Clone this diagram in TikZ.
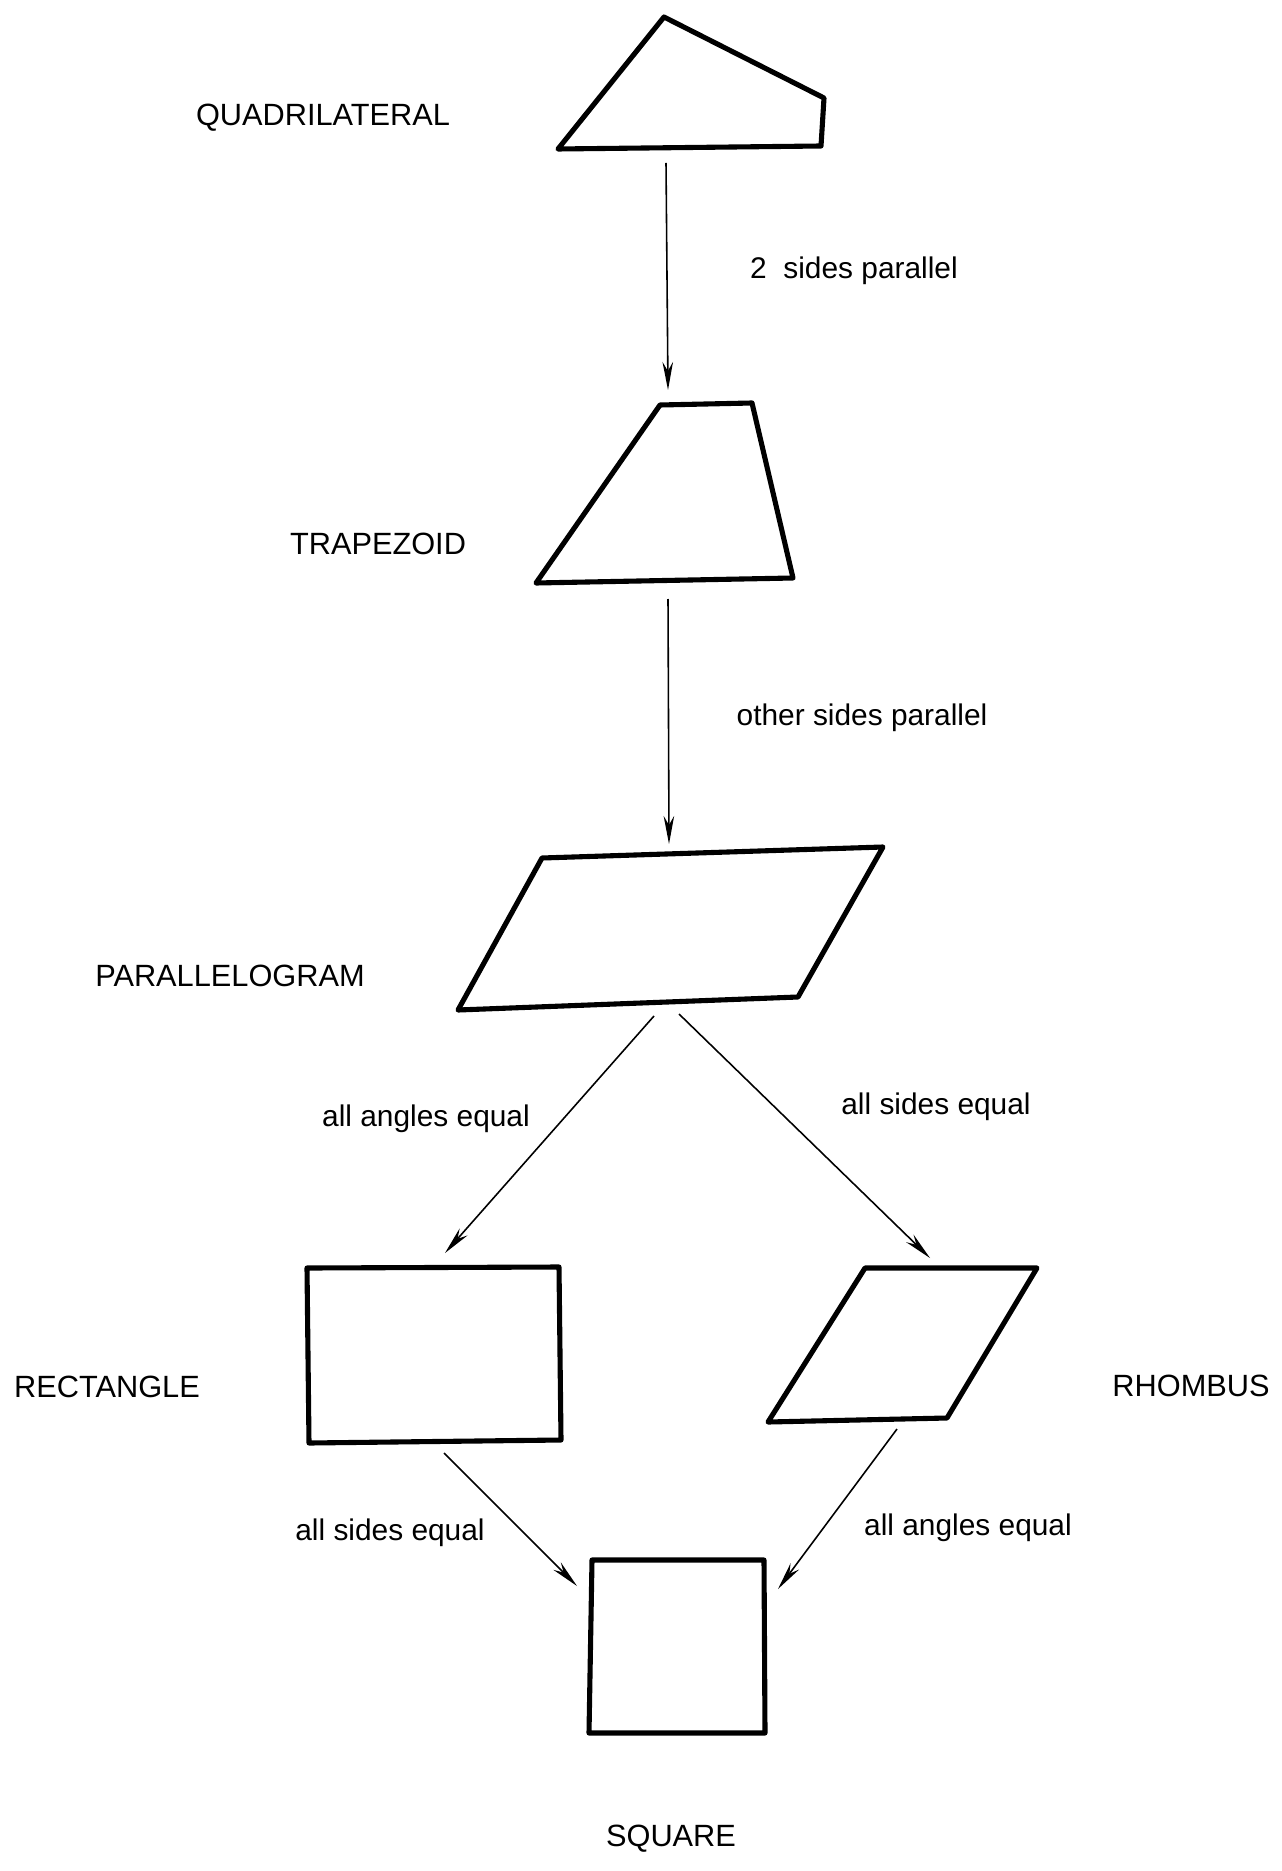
\documentclass[tikz,border=0pt]{standalone}
\usepackage{fontspec}
\setmainfont{Liberation Sans}
\usetikzlibrary{arrows.meta}

\begin{document}
\begin{tikzpicture}[x=0.02cm,y=-0.02cm,>={Stealth[length=16pt,width=6pt]},
	figure/.style={draw=black, line width=2.9pt, line join=round},
	link/.style={->, line width=0.9pt},
	title/.style={font=\fontsize{17.5}{21}\selectfont},
	cond/.style={font=\fontsize{17}{20}\selectfont}]
	\useasboundingbox (0,0) rectangle (1281,1871);

	% the shapes
	\coordinate (q1) at (664,17);  \coordinate (q2) at (824,98);
	\coordinate (q3) at (821,146); \coordinate (q4) at (558,149);
	\coordinate (t1) at (660,405); \coordinate (t2) at (752,403);
	\coordinate (t3) at (793,578); \coordinate (t4) at (536,583);
	\coordinate (p1) at (542,858); \coordinate (p2) at (883,847);
	\coordinate (p3) at (798,997); \coordinate (p4) at (458,1010);
	\coordinate (r1) at (307,1268); \coordinate (r2) at (559,1267);
	\coordinate (r3) at (561,1440); \coordinate (r4) at (309,1443);
	\coordinate (h1) at (865,1268); \coordinate (h2) at (1037,1268);
	\coordinate (h3) at (947,1418); \coordinate (h4) at (768,1422);
	\coordinate (s1) at (592,1560); \coordinate (s2) at (764,1560);
	\coordinate (s3) at (765,1733); \coordinate (s4) at (589,1733);

	\draw[figure] (q1) -- (q2) -- (q3) -- (q4) -- cycle;
	\draw[figure] (t1) -- (t2) -- (t3) -- (t4) -- cycle;
	\draw[figure] (p1) -- (p2) -- (p3) -- (p4) -- cycle;
	\draw[figure] (r1) -- (r2) -- (r3) -- (r4) -- cycle;
	\draw[figure] (h1) -- (h2) -- (h3) -- (h4) -- cycle;
	\draw[figure] (s1) -- (s2) -- (s3) -- (s4) -- cycle;

	% names
	\node[title] (quad) at (323,118) {QUADRILATERAL};
	\node[title] (trap) at (378,544) {TRAPEZOID};
	\node[title] (para) at (230,976) {PARALLELOGRAM};
	\node[title] (rect) at (107,1387) {RECTANGLE};
	\node[title] (rhom) at (1191,1386) {RHOMBUS};
	\node[title] (squa) at (671,1839) {SQUARE};

	% arrow ends
	\coordinate (a1) at (666,163);  \coordinate (b1) at (668,390);
	\coordinate (a2) at (668,599);  \coordinate (b2) at (669,844);
	\coordinate (a3) at (654,1016); \coordinate (b3) at (445,1253);
	\coordinate (a4) at (679,1014); \coordinate (b4) at (930,1258);
	\coordinate (a5) at (444,1453); \coordinate (b5) at (577,1586);
	\coordinate (a6) at (897,1429); \coordinate (b6) at (778,1589);

	\path[link]
	(a1) edge (b1)
	(a2) edge (b2)
	(a3) edge (b3)
	(a4) edge (b4)
	(a5) edge (b5)
	(a6) edge (b6);

	% conditions
	\node[cond] (c1) at (854,271) {2~~sides parallel};
	\node[cond] (c2) at (862,718) {other sides parallel};
	\node[cond] (c3) at (426,1119) {all angles equal};
	\node[cond] (c4) at (936,1107) {all sides equal};
	\node[cond] (c5) at (390,1533) {all sides equal};
	\node[cond] (c6) at (968,1528) {all angles equal};
\end{tikzpicture}
\end{document}
